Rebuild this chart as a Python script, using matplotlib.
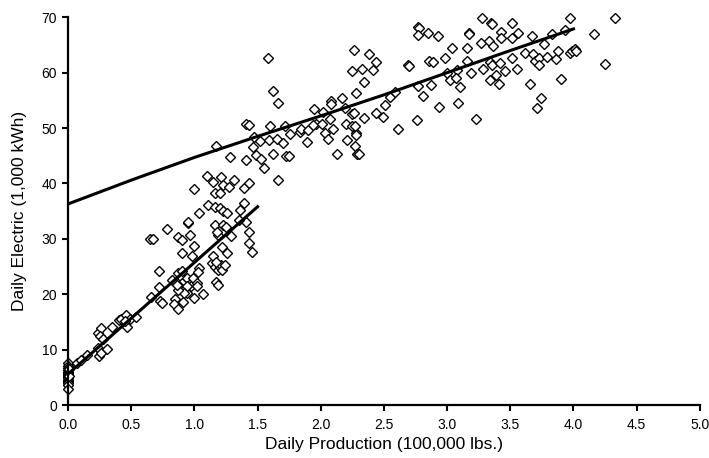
import numpy as np
import matplotlib.pyplot as plt

plt.rcParams['font.family'] = ['Liberation Sans', 'DejaVu Sans']

# daily production (100,000 lbs.) and daily electric (1,000 kWh)
prod_zero = [0.0] * 17 + [0.01, 0.01]
elec_zero = [7.5, 7.0, 6.6, 6.3, 6.0, 5.8, 5.6, 5.4, 5.2, 5.0, 4.8, 4.6, 4.4,
             4.2, 4.0, 3.7, 2.9, 6.5, 5.2]

prod_low = [0.07, 0.10, 0.15, 0.235, 0.245, 0.26, 0.31, 0.235, 0.26, 0.25, 0.28,
            0.345, 0.40, 0.42, 0.46, 0.47, 0.49, 0.54, 0.45,
            0.66, 0.65, 0.67, 0.72, 0.72, 0.73, 0.74, 0.78, 0.825, 0.85, 0.84,
            0.87, 0.87, 0.90, 0.90, 0.95, 0.965, 0.98, 1.0, 1.0, 0.91,
            0.873, 0.90, 0.90, 0.88, 0.92, 0.90, 0.94, 0.94, 0.97, 0.97, 0.99,
            1.02, 0.94, 0.92, 0.87, 0.86, 1.04, 1.03, 1.065, 1.02]
elec_low = [7.6, 8.1, 9.0, 10.3, 8.8, 9.4, 10.1, 13.0, 13.9, 12.5, 12.0,
            14.1, 15.3, 15.5, 16.2, 14.1, 15.6, 15.9, 15.1,
            19.5, 30.0, 30.0, 21.3, 24.2, 18.8, 18.4, 31.8, 22.6, 19.2, 18.2,
            17.3, 30.4, 27.4, 29.8, 32.8, 30.7, 26.9, 28.7, 19.3, 18.6,
            23.8, 22.9, 22.0, 21.4, 20.8, 24.2, 20.2, 22.9, 22.0, 21.4, 22.9,
            22.0, 21.4, 20.2, 20.8, 21.6, 24.7, 24.1, 20.0, 21.4]

prod_mid = [1.137, 1.15, 1.16, 1.19, 1.18, 1.17, 1.19, 1.16, 1.19, 1.20, 1.21,
            1.17, 1.22, 1.23, 1.25, 1.22, 1.26, 1.24, 1.29, 1.41, 1.435,
            1.435, 1.455,
            1.17, 1.28, 1.0, 1.10, 1.145, 1.21, 1.23, 1.27, 1.31, 1.16, 1.20,
            1.04, 1.105, 1.165, 1.20, 1.23, 1.26, 0.95, 1.395, 1.43, 1.39,
            1.36, 1.355]
elec_mid = [25.6, 26.9, 32.5, 30.7, 31.3, 22.3, 21.7, 25.0, 24.4, 25.0, 25.3,
            25.9, 24.4, 32.5, 32.2, 28.5, 27.4, 25.3, 30.6, 33.0, 31.3,
            29.2, 27.6,
            46.8, 44.8, 39.0, 41.4, 40.3, 41.2, 39.8, 39.4, 40.7, 38.2, 38.3,
            34.6, 36.2, 35.8, 35.5, 35.0, 34.6, 33.0, 39.1, 40.1, 36.4,
            35.2, 33.4]

prod_upper = [1.585, 1.62, 1.66, 1.41, 1.41, 1.43, 1.47, 1.46, 1.49, 1.53,
              1.55, 1.52, 1.59, 1.60, 1.625, 1.66, 1.65, 1.70, 1.72, 1.725,
              1.75, 1.755, 1.835, 1.84, 1.89, 1.90, 1.95, 1.96, 1.94, 2.01,
              2.02, 2.03, 2.06, 2.07, 2.08, 2.08, 2.10, 2.13, 2.165, 2.19,
              2.20, 2.21, 2.245, 2.25, 2.27, 2.265, 2.245, 2.28, 2.28, 2.29,
              2.385, 2.44, 2.33, 2.415, 2.34, 2.26, 2.34, 2.44, 2.49, 2.51,
              2.55, 2.59, 2.61, 2.27, 2.28, 2.30]
elec_upper = [62.7, 56.7, 54.5, 44.2, 50.8, 50.6, 48.4, 46.6, 45.2, 44.5,
              42.8, 47.7, 47.8, 50.4, 45.4, 40.7, 48.0, 47.3, 50.4, 44.9,
              44.9, 48.9, 49.3, 49.9, 47.5, 49.6, 53.5, 50.8, 50.6, 50.8,
              52.9, 49.2, 48.1, 51.7, 54.9, 54.3, 49.9, 45.4, 55.5, 53.6,
              50.8, 47.8, 50.4, 52.6, 46.8, 64.1, 60.3, 56.4, 49.1, 45.4,
              63.4, 62.0, 60.6, 60.5, 58.4, 52.8, 51.9, 52.8, 52.0, 54.2,
              55.6, 56.6, 49.9, 50.3, 48.7, 45.3]

prod_high = [2.69, 2.70, 2.77, 2.78, 2.77, 2.85, 2.93, 2.76, 2.77, 2.81, 2.86,
             2.89, 2.87, 2.935, 2.98, 3.00, 3.02, 3.035, 3.075, 3.07, 3.09,
             3.10, 3.16, 3.16, 3.17, 3.175, 3.19, 3.225, 3.27, 3.28, 3.285,
             3.33, 3.34, 3.34, 3.35, 3.355, 3.355, 3.36, 3.39, 3.41, 3.42,
             3.43, 3.43, 3.46, 3.51, 3.515, 3.51, 3.55, 3.56, 3.62, 3.655,
             3.67, 3.68, 3.695, 3.73, 3.73, 3.74, 3.71, 3.77, 3.79, 3.83,
             3.86, 3.88, 3.90, 3.93, 3.97, 3.97, 3.99, 4.01, 4.02, 4.165,
             4.25, 4.33]
elec_high = [61.4, 61.2, 68.3, 68.0, 66.8, 67.2, 66.7, 51.4, 57.6, 55.8, 62.1,
             61.9, 57.8, 53.8, 62.7, 60.0, 58.7, 64.4, 60.5, 59.0, 54.6,
             57.5, 64.5, 62.1, 67.1, 66.9, 60.0, 51.6, 65.4, 69.8, 60.6,
             65.8, 62.0, 58.7, 68.9, 68.8, 61.4, 64.8, 59.6, 58.0, 61.8,
             67.4, 66.2, 60.3, 68.9, 66.2, 62.7, 60.7, 67.2, 63.6, 58.0,
             66.6, 63.3, 62.1, 62.6, 61.4, 55.4, 53.7, 65.2, 62.9, 66.9,
             62.4, 63.9, 58.8, 67.7, 69.9, 63.5, 63.9, 64.3, 63.9, 66.9,
             61.6, 69.9]

# trend lines
low_fit_x = [0.0, 1.5]
low_fit_y = [5.6, 35.8]
high_fit_x = [0.0, 0.5, 1.0, 1.5, 2.0, 2.5, 3.0, 3.5, 4.0]
high_fit_y = [36.3, 40.6, 44.7, 48.5, 52.2, 56.0, 60.0, 64.0, 67.9]

prod = prod_zero + prod_low + prod_mid + prod_upper + prod_high
elec = elec_zero + elec_low + elec_mid + elec_upper + elec_high

fig = plt.figure(figsize=(7.09, 4.58), dpi=100)
ax = fig.add_axes([0.096, 0.1157, 0.891, 0.8465])

ax.plot(prod, elec, linestyle='none', marker='D', markersize=5.2,
        markerfacecolor='white', markeredgecolor='black', markeredgewidth=1.0,
        zorder=2, clip_on=False)
ax.plot(low_fit_x, low_fit_y, color='black', lw=2.2, zorder=3)
ax.plot(high_fit_x, high_fit_y, color='black', lw=2.2, zorder=3)

ax.set_xlim(0, 5.0)
ax.set_ylim(0, 70)
ax.set_xticks(np.arange(0, 5.01, 0.5))
ax.set_xticklabels(['%.1f' % v for v in np.arange(0, 5.01, 0.5)])
ax.set_yticks(range(0, 71, 10))

for s in ['top', 'right']:
    ax.spines[s].set_visible(False)
for s in ['left', 'bottom']:
    ax.spines[s].set_linewidth(1.6)
    ax.spines[s].set_zorder(4)
ax.tick_params(direction='out', length=4, width=1.5, labelsize=10, pad=4)
ax.tick_params(axis='x', pad=5)

ax.set_xlabel('Daily Production (100,000 lbs.)', fontsize=12.5, labelpad=4)
ax.set_ylabel('Daily Electric (1,000 kWh)', fontsize=12.5, labelpad=10)

fig.savefig('out.png', dpi=100)
